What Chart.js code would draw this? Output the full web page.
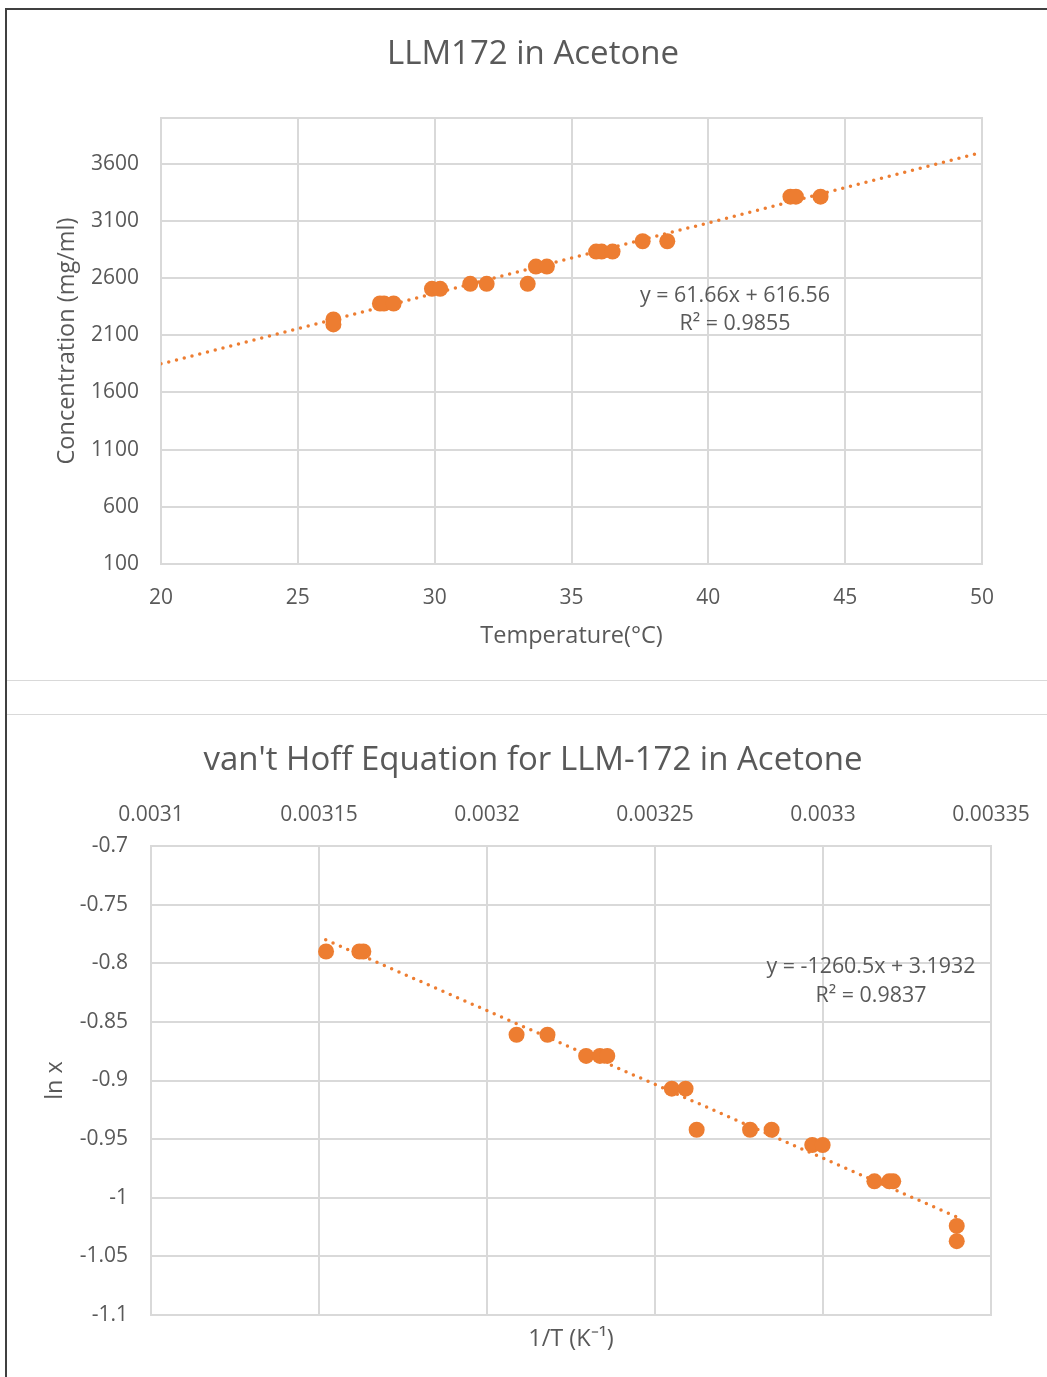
<!DOCTYPE html>
<html>
<head>
<meta charset="utf-8">
<script src="https://cdn.jsdelivr.net/npm/chart.js@4"></script>
<style>
  body { margin: 0; background: #fff; width: 1047px; height: 1377px; position: relative; overflow: hidden; }
  .rule { position: absolute; }
  #frameLeft { left: 5px; top: 8px; width: 2px; height: 1369px; background: #404040; }
  #frameTop { left: 5px; top: 8px; width: 1042px; height: 2px; background: #404040; }
  #sep1 { left: 7px; top: 680px; width: 1040px; height: 1px; background: #d9d9d9; }
  #sep2 { left: 7px; top: 714px; width: 1040px; height: 1px; background: #d9d9d9; }
  .box { position: absolute; left: 7px; width: 1040px; }
  #box1 { top: 10px; height: 670px; }
  #box2 { top: 715px; height: 662px; }
</style>
</head>
<body>
<div class="rule" id="frameLeft"></div>
<div class="rule" id="frameTop"></div>
<div class="rule" id="sep1"></div>
<div class="rule" id="sep2"></div>
<div class="box" id="box1"><canvas id="solubilityChart" width="1040" height="670"></canvas></div>
<div class="box" id="box2"><canvas id="vantHoffChart" width="1040" height="662"></canvas></div>
<script>
// ---- data: solubility vs temperature ----
const tempC = [26.3, 26.3, 28.0, 28.15, 28.5, 29.9, 30.2, 31.3, 31.9, 33.4, 33.7, 34.1, 35.9, 36.1, 36.5, 37.6, 38.5, 43.0, 43.2, 44.1];
const concMgMl = [2238, 2195, 2378, 2378, 2378, 2506, 2506, 2550, 2550, 2550, 2701, 2701, 2832, 2832, 2832, 2922, 2922, 3312, 3312, 3312];
const trendTopX = [20, 50];
const trendTopY = [1850, 3700];
const xTicksTop = [20, 25, 30, 35, 40, 45, 50];
const yTicksTop = [100, 600, 1100, 1600, 2100, 2600, 3100, 3600];
const trendTopText = ["y = 61.66x + 616.56", "R² = 0.9855"];

// ---- data: van't Hoff ----
const invT = [0.0031521, 0.0031620, 0.0031632, 0.0032088, 0.0032180, 0.0032295, 0.0032336, 0.0032358, 0.0032550, 0.0032591,
              0.0032624, 0.0032783, 0.0032847, 0.0032968, 0.0032999, 0.0033153, 0.0033197, 0.0033209, 0.0033398, 0.0033398];
const lnX = [-0.790, -0.790, -0.790, -0.861, -0.861, -0.879, -0.879, -0.879, -0.907, -0.907,
             -0.942, -0.942, -0.942, -0.955, -0.955, -0.986, -0.986, -0.986, -1.024, -1.037];
const trendBotX = [0.003152, 0.00334];
const trendBotY = [-0.780, -1.0166];
const xTicksBot = [0.0031, 0.00315, 0.0032, 0.00325, 0.0033, 0.00335];
const xTickLabelsBot = ["0.0031", "0.00315", "0.0032", "0.00325", "0.0033", "0.00335"];
const yTicksBot = [-1.1, -1.05, -1, -0.95, -0.9, -0.85, -0.8, -0.75, -0.7];
const yTickLabelsBot = ["-1.1", "-1.05", "-1", "-0.95", "-0.9", "-0.85", "-0.8", "-0.75", "-0.7"];
const trendBotText = ["y = -1260.5x + 3.1932", "R² = 0.9837"];

const FONT = '"Open Sans", sans-serif';
const TEXT = "#595959";
const GRID = "#d9d9d9";
const ORANGE = "#ED7D31";

Chart.defaults.font.family = FONT;
Chart.defaults.color = TEXT;

const zip = (xs, ys) => xs.map((x, i) => ({ x, y: ys[i] }));
const setTicks = (vals) => (s) => { s.ticks = vals.map((v) => ({ value: v })); };
const fixSize = (prop, n) => (s) => {
  s[prop] = n;
  s.paddingLeft = 0; s.paddingRight = 0; s.paddingTop = 0; s.paddingBottom = 0;
};

// frame around the plot area
const plotBorder = {
  id: "plotBorder",
  beforeDatasetsDraw(chart) {
    const { ctx, chartArea: a } = chart;
    ctx.save();
    ctx.strokeStyle = GRID;
    ctx.lineWidth = 2;
    ctx.strokeRect(a.left, a.top, a.right - a.left, a.bottom - a.top);
    ctx.restore();
  },
};

// chart heading, centred on the whole chart box like Excel does
const heading = {
  id: "heading",
  afterDraw(chart, args, opts) {
    const { ctx } = chart;
    ctx.save();
    ctx.font = `33px ${FONT}`;
    ctx.fillStyle = TEXT;
    ctx.textAlign = "center";
    ctx.textBaseline = "middle";
    ctx.fillText(opts.text, opts.x, opts.y);
    ctx.restore();
  },
};

// trendline equation text
const trendLabel = {
  id: "trendLabel",
  afterDatasetsDraw(chart, args, opts) {
    const { ctx } = chart;
    ctx.save();
    ctx.font = `21.4px ${FONT}`;
    ctx.fillStyle = TEXT;
    ctx.textAlign = "center";
    ctx.textBaseline = "middle";
    opts.lines.forEach((t, i) => ctx.fillText(t, opts.x, opts.y + i * opts.gap));
    ctx.restore();
  },
};

function pointSet(data) {
  return {
    data,
    backgroundColor: ORANGE,
    borderColor: ORANGE,
    pointRadius: 8,
    pointHoverRadius: 8,
    borderWidth: 0,
    showLine: false,
  };
}

function trendSet(data) {
  return {
    data,
    showLine: true,
    borderColor: ORANGE,
    borderWidth: 3.5,
    borderDash: [0, 8],
    borderCapStyle: "round",
    pointRadius: 0,
    fill: false,
  };
}

const gridOpts = { color: GRID, lineWidth: 2, drawTicks: false };
const tickFont = { size: 21 };
const titleFont = { size: 23.5 };

// ---- chart 1 ----
new Chart(document.getElementById("solubilityChart"), {
  type: "scatter",
  data: {
    datasets: [pointSet(zip(tempC, concMgMl)), trendSet(zip(trendTopX, trendTopY))],
  },
  plugins: [plotBorder, trendLabel, heading],
  options: {
    responsive: false,
    animation: false,
    devicePixelRatio: 1,
    layout: { padding: { left: 40, right: 65, top: 108, bottom: 20 } },
    scales: {
      x: {
        type: "linear", min: 20, max: 50,
        afterBuildTicks: setTicks(xTicksTop),
        afterFit: fixSize("height", 96),
        grid: gridOpts,
        border: { display: false },
        ticks: { color: TEXT, font: tickFont, padding: 21, autoSkip: false, maxRotation: 0, callback: (v) => String(v) },
        title: { display: true, text: "Temperature(°C)", color: TEXT, font: titleFont, padding: { top: 0, bottom: 9.5 } },
      },
      y: {
        type: "linear", min: 100, max: 4000,
        afterBuildTicks: setTicks(yTicksTop),
        afterFit: fixSize("width", 114),
        grid: gridOpts,
        border: { display: false },
        ticks: { color: TEXT, font: tickFont, padding: 22, autoSkip: false, callback: (v) => String(v) },
        title: { display: true, text: "Concentration (mg/ml)", color: TEXT, font: titleFont, padding: { top: 6.5, bottom: 0 } },
      },
    },
    plugins: {
      legend: { display: false },
      tooltip: { enabled: false },
      title: { display: false },
      heading: { text: "LLM172 in Acetone", x: 526, y: 45 },
      trendLabel: { lines: trendTopText, x: 728, y: 286, gap: 28 },
    },
  },
});

// ---- chart 2 ----
new Chart(document.getElementById("vantHoffChart"), {
  type: "scatter",
  data: {
    datasets: [pointSet(zip(invT, lnX)), trendSet(zip(trendBotX, trendBotY))],
  },
  plugins: [plotBorder, trendLabel, heading],
  options: {
    responsive: false,
    animation: false,
    devicePixelRatio: 1,
    layout: { padding: { left: 20, right: 56, top: 81, bottom: 0 } },
    scales: {
      x: {
        type: "linear", position: "top", min: 0.0031, max: 0.00335,
        afterBuildTicks: setTicks(xTicksBot),
        afterFit: fixSize("height", 50),
        grid: gridOpts,
        border: { display: false },
        ticks: { color: TEXT, font: tickFont, padding: 18.5, autoSkip: false, maxRotation: 0,
                 callback: (v, i) => xTickLabelsBot[i] },
      },
      x2: {
        type: "linear", position: "bottom", min: 0, max: 1,
        afterFit: fixSize("height", 62),
        grid: { display: false },
        border: { display: false },
        ticks: { display: false },
        title: { display: true, text: "1/T (K⁻¹)", color: TEXT, font: titleFont, padding: { top: 0, bottom: 23.5 } },
      },
      y: {
        type: "linear", min: -1.1, max: -0.7,
        afterBuildTicks: setTicks(yTicksBot),
        afterFit: fixSize("width", 124),
        grid: gridOpts,
        border: { display: false },
        ticks: { color: TEXT, font: tickFont, padding: 23, autoSkip: false, callback: (v, i) => yTickLabelsBot[i] },
        title: { display: true, text: "ln x", color: TEXT, font: titleFont, padding: { top: 14.5, bottom: 0 } },
      },
    },
    plugins: {
      legend: { display: false },
      tooltip: { enabled: false },
      title: { display: false },
      heading: { text: "van't Hoff Equation for LLM-172 in Acetone", x: 526, y: 46 },
      trendLabel: { lines: trendBotText, x: 864, y: 252, gap: 29 },
    },
  },
});
</script>
</body>
</html>
